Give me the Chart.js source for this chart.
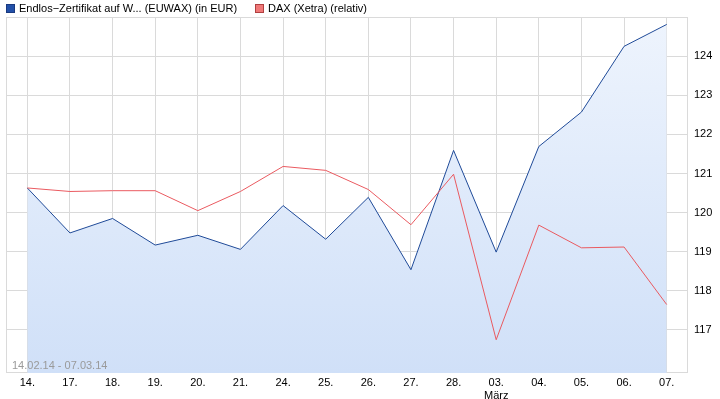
<!DOCTYPE html>
<html lang="de">
<head>
    <meta charset="UTF-8">
    <title>Endlos-Zertifikat vs. DAX</title>
    <script src="https://cdn.jsdelivr.net/npm/chart.js"></script>
    <style>
        html, body {
            margin: 0;
            padding: 0;
            background: #fff;
        }
        #wrap {
            width: 720px;
            height: 399px;
        }
    </style>
</head>
<body>
    <div id="wrap"><canvas id="chart" width="720" height="399"></canvas></div>

    <script>
        // Data
        const days = ['14.', '17.', '18.', '19.', '20.', '21.', '24.', '25.', '26.', '27.', '28.', ['03.', 'März'], '04.', '05.', '06.', '07.'];
        const zertifikat = [120.63, 119.48, 119.85, 119.17, 119.42, 119.06, 120.18, 119.32, 120.39, 118.54, 121.59, 118.99, 121.69, 122.57, 124.25, 124.81];
        const dax = [120.63, 120.54, 120.56, 120.56, 120.05, 120.54, 121.18, 121.08, 120.59, 119.69, 120.98, 116.75, 119.68, 119.1, 119.12, 117.65];
        const yTicks = [117, 118, 119, 120, 121, 122, 123, 124];
        const rangeText = '14.02.14 - 07.03.14';

        const gridColor = '#dadada';
        const fontFamily = '"Liberation Sans", Arial, sans-serif';

        // legend, frame and date range drawn on top of the chart
        const decorations = {
            id: 'decorations',
            beforeDatasetsDraw(chart) {
                const { ctx, chartArea: a } = chart;
                ctx.save();
                ctx.strokeStyle = gridColor;
                ctx.lineWidth = 1;
                ctx.strokeRect(a.left + 0.5, a.top + 0.5, a.right - a.left - 1, a.bottom - a.top - 1);
                ctx.restore();
            },
            afterDatasetsDraw(chart) {
                const { ctx, chartArea: a } = chart;
                ctx.save();
                ctx.font = '11px ' + fontFamily;
                ctx.fillStyle = '#9a9a9a';
                ctx.textBaseline = 'alphabetic';
                ctx.fillText(rangeText, a.left + 6, a.bottom - 4);

                // legend
                const items = [
                    { x: 6, label: chart.data.datasets[0].label, fill: '#2250a8', stroke: '#1a3a80' },
                    { x: 255, label: chart.data.datasets[1].label, fill: '#f07878', stroke: '#b04040' }
                ];
                ctx.fillStyle = '#000';
                items.forEach(it => {
                    ctx.fillStyle = it.fill;
                    ctx.fillRect(it.x, 4, 9, 9);
                    ctx.strokeStyle = it.stroke;
                    ctx.strokeRect(it.x + 0.5, 4.5, 8, 8);
                    ctx.fillStyle = '#000';
                    ctx.textBaseline = 'middle';
                    ctx.fillText(it.label, it.x + 13, 9);
                });
                ctx.restore();
            }
        };

        const ctx = document.getElementById('chart').getContext('2d');
        new Chart(ctx, {
            type: 'line',
            data: {
                labels: days,
                datasets: [{
                    label: 'Endlos\u2212Zertifikat auf W... (EUWAX) (in EUR)',
                    data: zertifikat,
                    borderColor: '#1f4a98',
                    borderWidth: 1,
                    pointRadius: 0,
                    tension: 0,
                    fill: 'start',
                    backgroundColor: (c) => {
                        const area = c.chart.chartArea;
                        if (!area) return 'rgba(210,225,248,0.9)';
                        const g = c.chart.ctx.createLinearGradient(0, area.top, 0, area.bottom);
                        g.addColorStop(0, '#eef4fd');
                        g.addColorStop(1, '#d0e0f8');
                        return g;
                    },
                    order: 2
                }, {
                    label: 'DAX (Xetra) (relativ)',
                    data: dax,
                    borderColor: '#ea5a60',
                    borderWidth: 1,
                    pointRadius: 0,
                    tension: 0,
                    fill: false,
                    order: 1
                }]
            },
            options: {
                responsive: false,
                animation: false,
                layout: {
                    padding: { left: 6, top: 17, right: 0, bottom: 0 }
                },
                plugins: {
                    legend: { display: false },
                    tooltip: { enabled: false }
                },
                scales: {
                    x: {
                        offset: true,
                        grid: {
                            offset: false,
                            color: gridColor,
                            drawTicks: false
                        },
                        border: { display: false },
                        ticks: {
                            color: '#000',
                            font: { family: fontFamily, size: 11 },
                            padding: 3,
                            maxRotation: 0,
                            autoSkip: false
                        },
                        afterFit(scale) { scale.height = 26; }
                    },
                    y: {
                        position: 'right',
                        min: 115.9,
                        max: 125.0,
                        grid: {
                            color: gridColor,
                            drawTicks: false
                        },
                        border: { display: false },
                        ticks: {
                            color: '#000',
                            font: { family: fontFamily, size: 11 },
                            padding: 6
                        },
                        afterBuildTicks(axis) {
                            axis.ticks = yTicks.map(v => ({ value: v }));
                        },
                        afterFit(scale) { scale.width = 32; }
                    }
                }
            },
            plugins: [decorations]
        });
    </script>
</body>
</html>
